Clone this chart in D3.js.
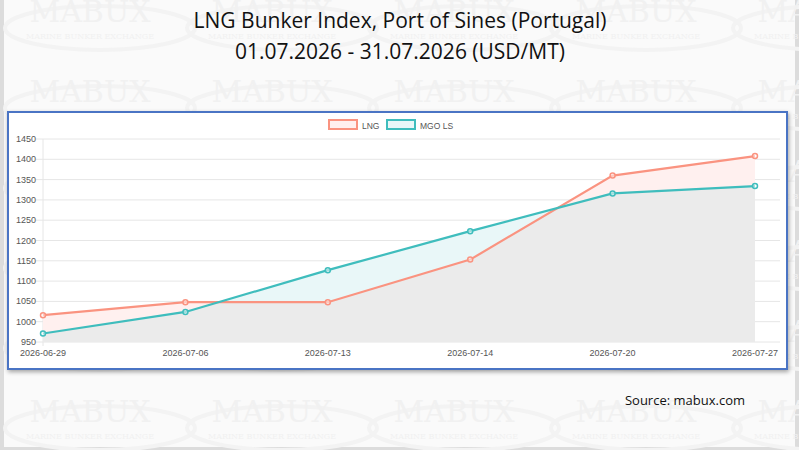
<!DOCTYPE html>
<html><head><meta charset="utf-8">
<script src="https://cdn.jsdelivr.net/npm/d3@7"></script>
<style>body{margin:0;background:#fff}</style>
</head><body>
<script>
var categories = ['2026-06-29','2026-07-06','2026-07-13','2026-07-14','2026-07-20','2026-07-27'];
var lngValues = [1016, 1048, 1048, 1153, 1360, 1408];
var mgoValues = [971, 1024, 1127, 1223, 1316, 1334];
var yTicks = [950,1000,1050,1100,1150,1200,1250,1300,1350,1400,1450];
var seriesNames = ['LNG','MGO LS'];

var W = 799, H = 450;
var svg = d3.select('body').append('svg').attr('width', W).attr('height', H)
  .style('font-family','Arial, Liberation Sans, sans-serif');

svg.append('rect').attr('x',0).attr('y',0).attr('width',W).attr('height',H).attr('fill','#dcdcdc');
svg.append('rect').attr('x',4).attr('y',0).attr('width',W-8).attr('height',H-3).attr('fill','#fafafa');

// faint watermarks
var wm = svg.append('g').attr('fill','#f1f1f1');
for (var r = 0; r < 6; r++) {
  for (var c = 0; c < 5; c++) {
    var wx = 90 + c*182, wy = 22 + r*80;
    wm.append('ellipse').attr('cx', wx+10).attr('cy', wy+6).attr('rx',95).attr('ry',22)
      .attr('fill','none').attr('stroke','#f3f3f3').attr('stroke-width',4);
    wm.append('text').attr('x', wx).attr('y', wy).attr('text-anchor','middle')
      .attr('font-family','DejaVu Serif, serif').attr('font-size',30).text('MABUX');
    wm.append('text').attr('x', wx).attr('y', wy+17).attr('text-anchor','middle')
      .attr('font-family','DejaVu Serif, serif').attr('font-size',8).text('MARINE BUNKER EXCHANGE');
  }
}

svg.append('text').attr('x',400).attr('y',28).attr('text-anchor','middle')
  .attr('font-family','Open Sans, sans-serif').attr('font-size',21).attr('fill','#111')
  .text('LNG Bunker Index, Port of Sines (Portugal)');
svg.append('text').attr('x',400).attr('y',59).attr('text-anchor','middle')
  .attr('font-family','Open Sans, sans-serif').attr('font-size',21).attr('fill','#111')
  .text('01.07.2026 - 31.07.2026 (USD/MT)');
svg.append('text').attr('x',745).attr('y',405).attr('text-anchor','end')
  .attr('font-family','Open Sans, sans-serif').attr('font-size',13).attr('fill','#111')
  .text('Source: mabux.com');

// chart box
svg.append('rect').attr('x',8).attr('y',112).attr('width',779).attr('height',257)
  .attr('fill','#fff').attr('stroke','#4a74c4').attr('stroke-width',2)
  .style('filter','drop-shadow(1px 2px 2px rgba(0,0,0,0.35))');

var x = d3.scalePoint().domain(categories).range([43, 755]);
var y = d3.scaleLinear().domain([950,1450]).range([342, 139]);

var grid = svg.append('g');
grid.selectAll('line').data(yTicks).enter().append('line')
  .attr('x1',36).attr('x2',780).attr('y1',function(d){return y(d);}).attr('y2',function(d){return y(d);})
  .attr('stroke','#e6e6e6');
grid.append('line').attr('x1',43).attr('x2',43).attr('y1',139).attr('y2',346).attr('stroke','#e6e6e6');
svg.selectAll('.yl').data(yTicks).enter().append('text')
  .attr('x',36).attr('y',function(d){return y(d)+3;}).attr('text-anchor','end')
  .attr('font-size',9).attr('fill','#555').text(function(d){return d;});
svg.selectAll('.xl').data(categories).enter().append('text')
  .attr('x',function(d){return x(d);}).attr('y',356).attr('text-anchor','middle')
  .attr('font-size',9).attr('fill','#555').text(function(d){return d;});

var series = [
  {name: seriesNames[0], values: lngValues, stroke:'#fa9380', fill:'#fff0ef'},
  {name: seriesNames[1], values: mgoValues, stroke:'#3fbdbd', fill:'#e9f7f8'}
];
var area = d3.area().x(function(d,i){return x(categories[i]);}).y0(y(950)).y1(function(d){return y(d);});
var line = d3.line().x(function(d,i){return x(categories[i]);}).y(function(d){return y(d);});
series.forEach(function(s){
  svg.append('path').attr('d', area(s.values)).attr('fill', s.fill);
});
// overlap region shows grey
svg.append('clipPath').attr('id','clipL').append('path').attr('d', area(lngValues));
svg.append('g').attr('clip-path','url(#clipL)')
  .append('path').attr('d', area(mgoValues)).attr('fill','#ebebeb');
series.forEach(function(s){
  svg.append('path').attr('d', line(s.values)).attr('fill','none').attr('stroke',s.stroke).attr('stroke-width',2.2);
  svg.selectAll(null).data(s.values).enter().append('circle')
    .attr('cx',function(d,i){return x(categories[i]);}).attr('cy',function(d){return y(d);})
    .attr('r',2.5).attr('fill','#fff').attr('fill-opacity',0.5).attr('stroke',s.stroke).attr('stroke-width',1.5);
});

// legend
var lg = [{x:329, s:series[0]}, {x:387, s:series[1]}];
lg.forEach(function(l){
  svg.append('rect').attr('x',l.x).attr('y',120).attr('width',28).attr('height',9)
    .attr('fill',l.s.fill).attr('stroke',l.s.stroke).attr('stroke-width',2);
  svg.append('text').attr('x',l.x+33).attr('y',128.5).attr('font-size',8.5).attr('fill','#555').text(l.s.name);
});
</script>
</body></html>
